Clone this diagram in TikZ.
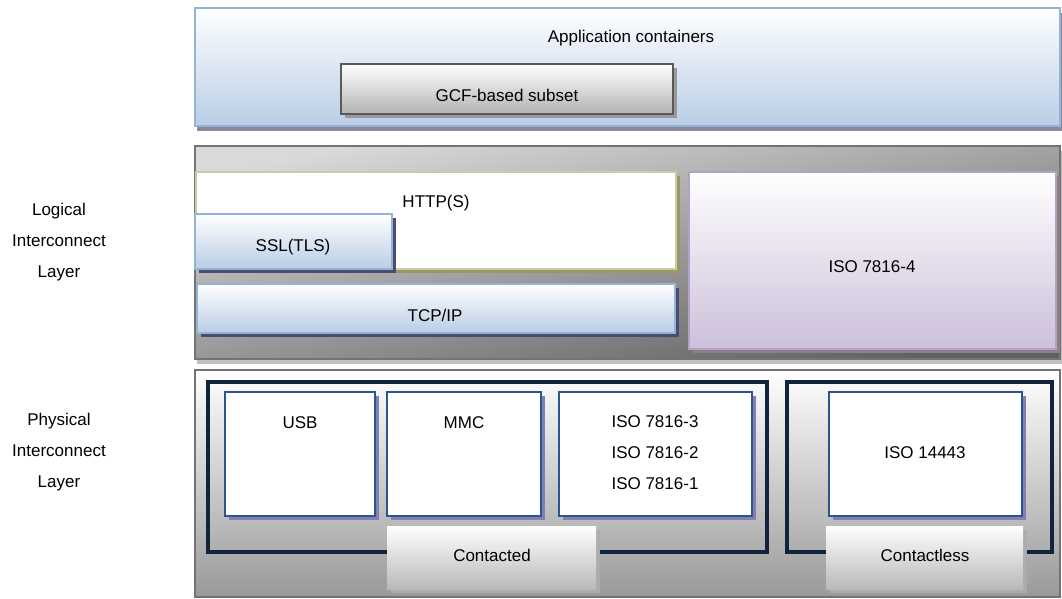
\documentclass[tikz,border=0pt]{standalone}
\usepackage{fontspec}
\setmainfont{Liberation Sans}
\usetikzlibrary{positioning,shadows}

\definecolor{bluebot}{HTML}{B9CDE5}
\definecolor{blueline}{HTML}{95B3D7}
\definecolor{purplebot}{HTML}{CCC0DA}
\definecolor{purpleline}{HTML}{B3A2C7}
\definecolor{oliveline}{HTML}{C9CCA8}
\definecolor{framenavy}{HTML}{10243E}
\definecolor{boxline}{HTML}{2E5490}

\begin{document}
\begin{tikzpicture}[x=1pt,y=-1pt]

\tikzstyle{every node}=[font=\fontsize{17}{31}\selectfont,inner sep=0]
\tikzstyle{shadowed}=[general shadow={fill=#1,shadow xshift=4pt,shadow yshift=-4pt}]
\tikzstyle{appbox}=[draw=blueline,line width=2pt,top color=white,bottom color=bluebot,
                    general shadow={fill=gray!75!blue!60!black!60,shadow xshift=2pt,shadow yshift=-5pt}]
\tikzstyle{graybtn}=[draw=black!65,line width=1.5pt,top color=white,bottom color=gray!60,shadowed=gray!80]
\tikzstyle{bluebox}=[draw=blueline,line width=1.5pt,top color=white,bottom color=bluebot,shadowed=blue!20!black!70]
\tikzstyle{httpbox}=[draw=oliveline,line width=1.5pt,fill=white,shadowed=olive!40!gray!90]
\tikzstyle{purplebox}=[draw=purpleline,line width=1.5pt,top color=white,bottom color=purplebot,shadowed=purple!15!gray!90]
\tikzstyle{logicpanel}=[draw=black!55,line width=1.5pt,top color=black!15,bottom color=black!62,shading angle=12,
                        general shadow={fill=black!25,shadow xshift=2pt,shadow yshift=-5pt}]
\tikzstyle{physpanel}=[draw=black!55,line width=1.5pt,top color=white,bottom color=black!40]
\tikzstyle{groupframe}=[draw=framenavy,line width=4pt]
\tikzstyle{whitebox}=[draw=boxline,line width=2pt,fill=white,shadowed=blue!25!gray!80]
\tikzstyle{tabbox}=[top color=white,bottom color=gray!55,shadowed=gray!65]

% box from corner (#2,#3) to corner (#4,#5)
\newcommand{\layerbox}[6]{
    \node[#1,minimum width={#4-#2},minimum height={#5-#3}] (#6) at ({(#2+#4)/2},{(#3+#5)/2}) {};
}

\useasboundingbox (0,0) rectangle (1062,598);

% application layer
\layerbox{appbox}{195}{8}{1060}{126}{apps}
\layerbox{graybtn}{341}{64}{673}{114}{gcf}
\node (appstxt) at (631,38) {Application containers};
\node (gcftxt) at (507,95) {GCF-based subset};

% logical interconnect layer
\layerbox{logicpanel}{195}{146}{1060}{359}{logical}
\layerbox{httpbox}{196}{172}{676}{269}{http}
\layerbox{bluebox}{195}{214}{392}{269}{ssl}
\layerbox{bluebox}{197}{284}{675}{333}{tcp}
\layerbox{purplebox}{689}{172}{1056}{349}{iso4}
\node (httptxt) at (436,203) {HTTP(S)};
\node (ssltxt) at (293,247) {SSL(TLS)};
\node (tcptxt) at (435,315) {TCP/IP};
\node (iso4txt) at (872,267) {ISO 7816-4};

% physical interconnect layer
\layerbox{physpanel}{195}{370}{1060}{597}{physical}
\layerbox{groupframe}{208}{382}{767}{552}{contacted}
\layerbox{groupframe}{787}{382}{1052}{552}{contactless}
\layerbox{whitebox}{225}{392}{375}{516}{usb}
\layerbox{whitebox}{387}{392}{541}{516}{mmc}
\layerbox{whitebox}{559}{392}{752}{516}{iso123}
\layerbox{whitebox}{829}{392}{1022}{516}{iso14443}
\layerbox{tabbox}{387}{526}{596}{589}{contactedtab}
\layerbox{tabbox}{826}{526}{1023}{589}{contactlesstab}
\node (usbtxt) at (300,423) {USB};
\node (mmctxt) at (464,423) {MMC};
\node[align=center] (iso123txt) at (655,453) {ISO 7816-3\\ISO 7816-2\\ISO 7816-1};
\node (iso14443txt) at (925,453) {ISO 14443};
\node (contactedtxt) at (492,555) {Contacted};
\node (contactlesstxt) at (925,555) {Contactless};

% side labels
\node[align=center] (logicallbl) at (59,242) {Logical\\Interconnect\\Layer};
\node[align=center] (physicallbl) at (59,452) {Physical\\Interconnect\\Layer};

\end{tikzpicture}
\end{document}
